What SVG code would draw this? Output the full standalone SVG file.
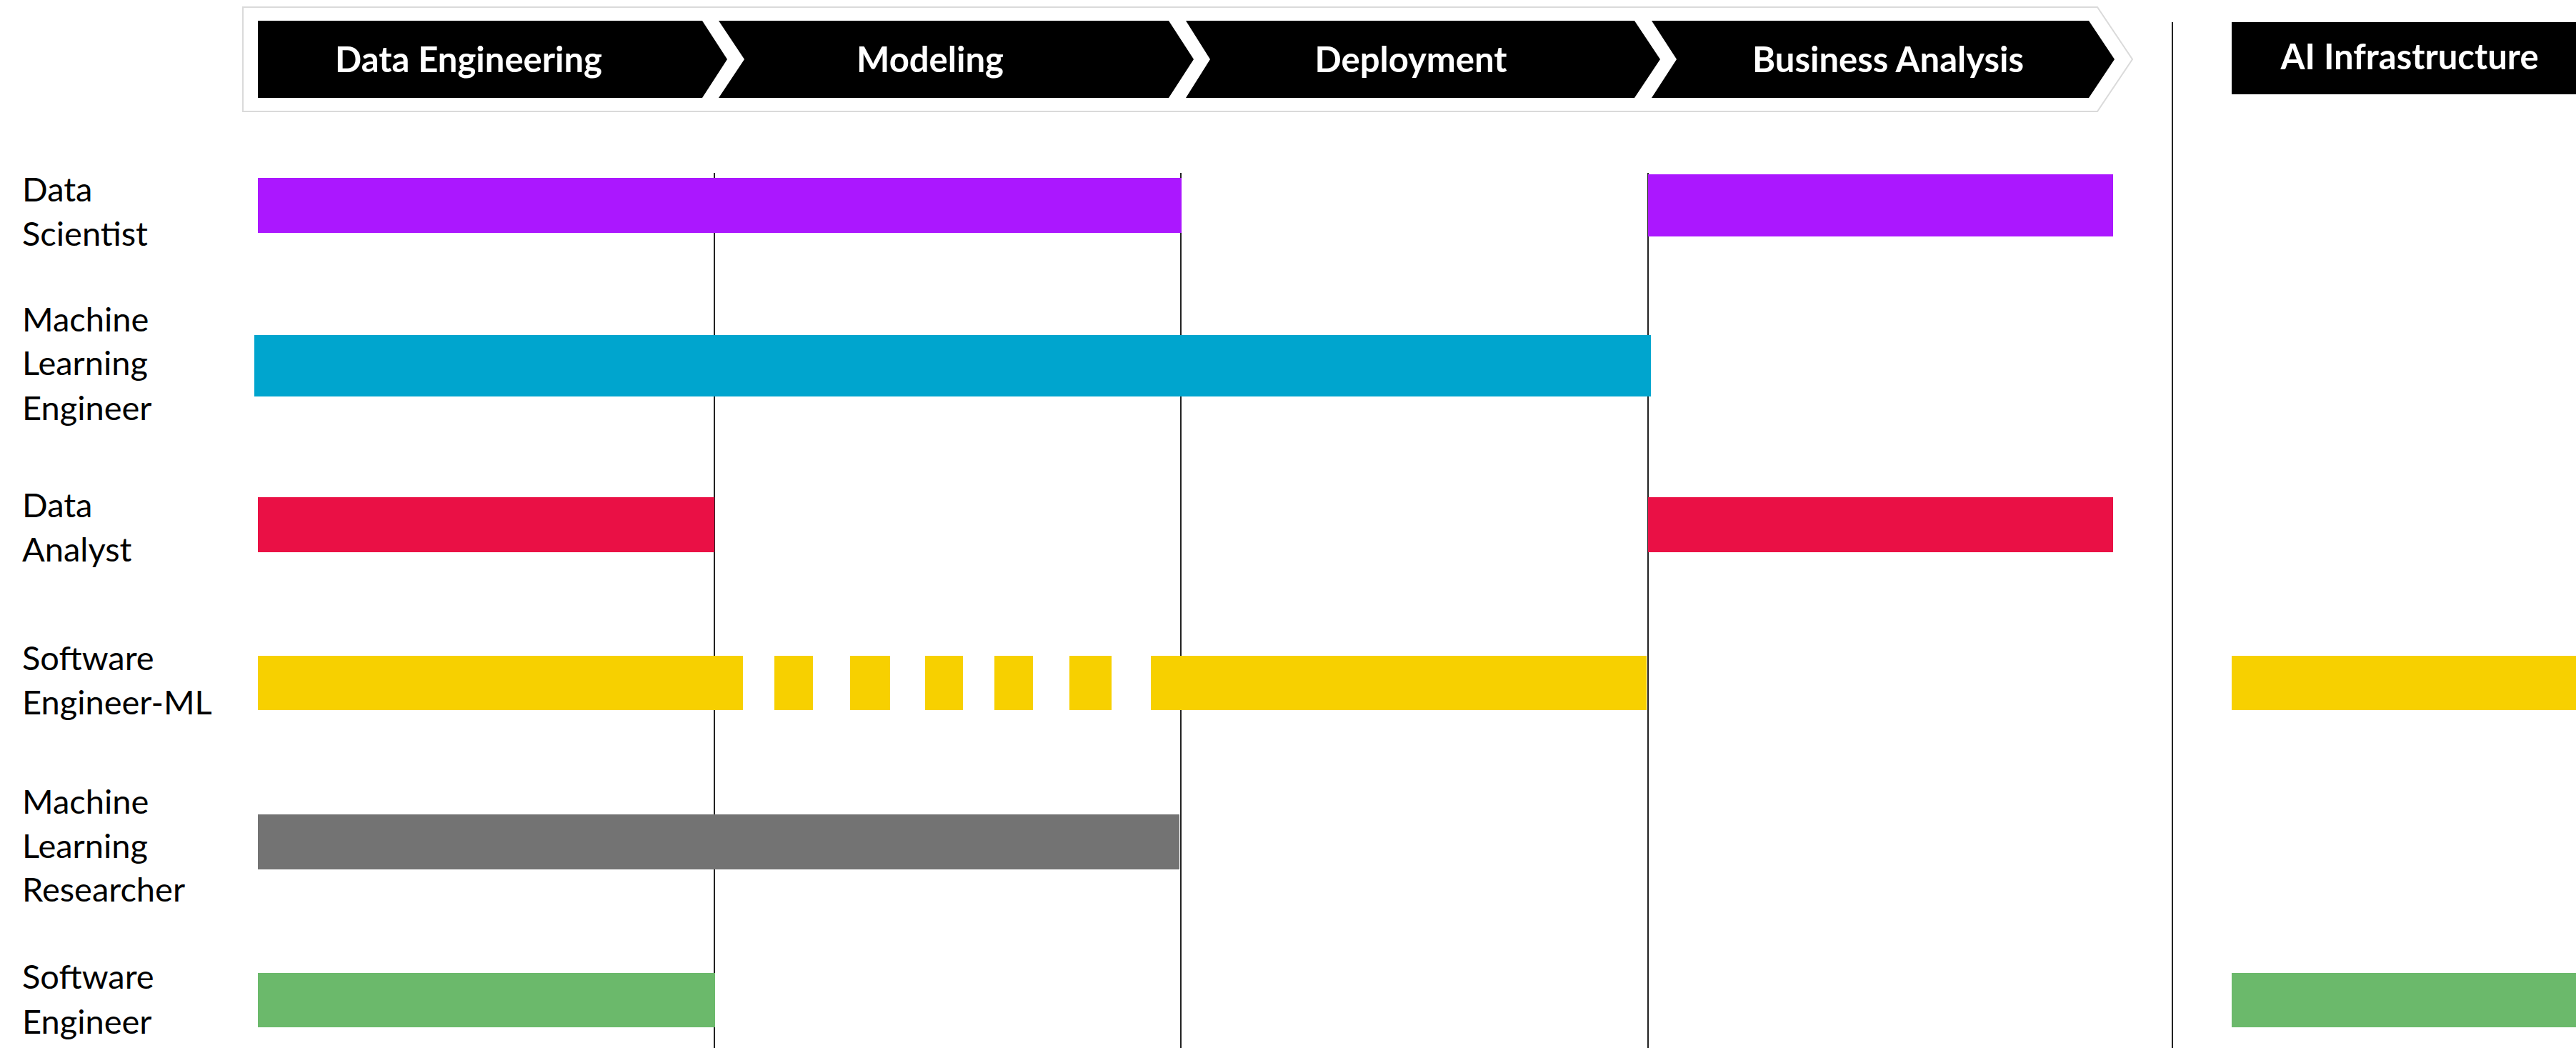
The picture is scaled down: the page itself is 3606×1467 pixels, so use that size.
<svg xmlns="http://www.w3.org/2000/svg" width="3606" height="1467" viewBox="0 0 3606 1467">
<style>
.hdr{fill:#000}
.htxt{font-family:Lato,"Noto Sans",sans-serif;font-weight:700;font-size:49px;fill:#fff;text-anchor:middle}
.lbl{font-family:Lato,"Noto Sans",sans-serif;font-size:47px;fill:#000}
.grid{stroke:#222;stroke-width:2}
.ds{fill:#AB17FF}
.mle{fill:#00A5CE}
.da{fill:#EA1045}
.seml{fill:#F7D000}
.mlr{fill:#737373}
.se{fill:#6BB96B}
</style>
<rect width="3606" height="1467" fill="#fff"/>
<g id="header-outline">
<polygon points="340,10 2936,10 2985,83 2936,156 340,156" fill="#fff" stroke="#dadada" stroke-width="2"/>
</g>
<g id="stage-data-engineering">
<polygon class="hdr" points="361,29 983,29 1018,83 983,137 361,137"/>
<text class="htxt" x="656" y="101">Data Engineering</text>
</g>
<g id="stage-modeling">
<polygon class="hdr" points="1006,29 1636,29 1671,83 1636,137 1006,137 1042,83"/>
<text class="htxt" x="1302" y="101">Modeling</text>
</g>
<g id="stage-deployment">
<polygon class="hdr" points="1660,29 2288,29 2324,83 2288,137 1660,137 1694,83"/>
<text class="htxt" x="1975" y="101">Deployment</text>
</g>
<g id="stage-business-analysis">
<polygon class="hdr" points="2312,29 2924,29 2960,83 2924,137 2312,137 2347,83"/>
<text class="htxt" x="2643" y="101">Business Analysis</text>
</g>
<g id="stage-ai-infrastructure">
<rect class="hdr" x="3124" y="31" width="482" height="101"/>
<text class="htxt" x="3373" y="97">AI Infrastructure</text>
</g>
<g id="connectors">
<line class="grid" x1="1000" y1="242" x2="1000" y2="1467"/>
<line class="grid" x1="1653" y1="242" x2="1653" y2="1467"/>
<line class="grid" x1="2307" y1="242" x2="2307" y2="1467"/>
<line class="grid" x1="3041" y1="31" x2="3041" y2="1467" stroke-width="3"/>
</g>
<g id="row-data-scientist">
<text class="lbl" x="31" y="282">Data</text>
<text class="lbl" x="31" y="344">Scientist</text>
<rect class="ds" x="361" y="249" width="1293" height="77"/>
<rect class="ds" x="2307" y="244" width="651" height="87"/>
</g>
<g id="row-ml-engineer">
<text class="lbl" x="31" y="464">Machine</text>
<text class="lbl" x="31" y="525">Learning</text>
<text class="lbl" x="31" y="588">Engineer</text>
<rect class="mle" x="356" y="469" width="1955" height="86"/>
</g>
<g id="row-data-analyst">
<text class="lbl" x="31" y="724">Data</text>
<text class="lbl" x="31" y="786">Analyst</text>
<rect class="da" x="361" y="696" width="639" height="77"/>
<rect class="da" x="2307" y="696" width="651" height="77"/>
</g>
<g id="row-software-engineer-ml">
<text class="lbl" x="31" y="938">Software</text>
<text class="lbl" x="31" y="1000">Engineer-ML</text>
<rect class="seml" x="361" y="918" width="679" height="76"/>
<rect class="seml" x="1084" y="918" width="54" height="76"/>
<rect class="seml" x="1190" y="918" width="56" height="76"/>
<rect class="seml" x="1295" y="918" width="53" height="76"/>
<rect class="seml" x="1392" y="918" width="54" height="76"/>
<rect class="seml" x="1497" y="918" width="59" height="76"/>
<rect class="seml" x="1611" y="918" width="694" height="76"/>
<rect class="seml" x="3124" y="918" width="482" height="76"/>
</g>
<g id="row-ml-researcher">
<text class="lbl" x="31" y="1139">Machine</text>
<text class="lbl" x="31" y="1201">Learning</text>
<text class="lbl" x="31" y="1262">Researcher</text>
<rect class="mlr" x="361" y="1140" width="1290" height="77"/>
</g>
<g id="row-software-engineer">
<text class="lbl" x="31" y="1384">Software</text>
<text class="lbl" x="31" y="1447">Engineer</text>
<rect class="se" x="361" y="1362" width="640" height="76"/>
<rect class="se" x="3124" y="1362" width="482" height="76"/>
</g>
</svg>
